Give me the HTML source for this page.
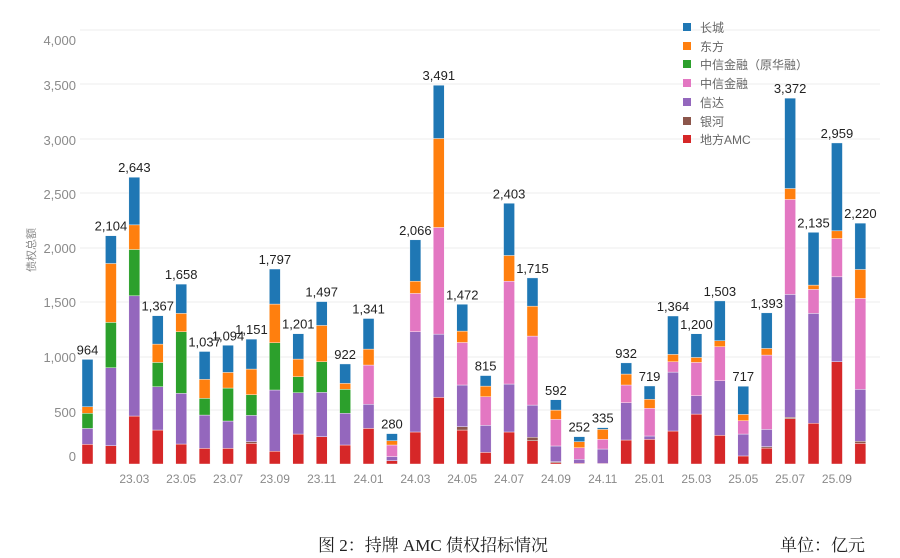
<!DOCTYPE html>
<html><head><meta charset="utf-8"><style>
html,body{margin:0;padding:0;background:#fff;}
svg{display:block;font-family:"Liberation Sans","Noto Sans CJK SC",sans-serif;}
</style></head><body>
<svg id="s" width="900" height="558" viewBox="0 0 900 558">
<g id="grid" stroke="#eeeeee" stroke-width="1"></g>
<g font-size="13" fill="#8a8a8a" text-anchor="end">
<text x="76" y="45">4,000</text><text x="76" y="90">3,500</text><text x="76" y="145">3,000</text>
<text x="76" y="199">2,500</text><text x="76" y="253">2,000</text><text x="76" y="307">1,500</text>
<text x="76" y="362">1,000</text><text x="76" y="417">500</text><text x="76" y="461">0</text>
</g>
<text transform="translate(35,250) rotate(-90)" font-size="11" fill="#888" text-anchor="middle">债权总额</text>
<g id="bars"></g>
<g id="lbl" font-size="13" fill="#222" text-anchor="middle">
<text>964</text><text>2,104</text><text>2,643</text><text>1,367</text><text>1,658</text><text>1,037</text><text>1,094</text><text>1,151</text><text>1,797</text><text>1,201</text><text>1,497</text><text>922</text><text>1,341</text><text>280</text><text>2,066</text><text>3,491</text><text>1,472</text><text>815</text><text>2,403</text><text>1,715</text><text>592</text><text>252</text><text>335</text><text>932</text><text>719</text><text>1,364</text><text>1,200</text><text>1,503</text><text>717</text><text>1,393</text><text>3,372</text><text>2,135</text><text>2,959</text><text>2,220</text>
</g>
<g id="xt" font-size="12" fill="#8a8a8a" text-anchor="middle">
<text>23.03</text><text>23.05</text><text>23.07</text><text>23.09</text><text>23.11</text><text>24.01</text><text>24.03</text><text>24.05</text><text>24.07</text><text>24.09</text><text>24.11</text><text>25.01</text><text>25.03</text><text>25.05</text><text>25.07</text><text>25.09</text>
</g>
<g font-size="12" fill="#666">
<rect x="683" y="23" width="8" height="8" fill="#1f77b4"/><text x="700" y="32">长城</text>
<rect x="683" y="42" width="8" height="8" fill="#ff7f0e"/><text x="700" y="51">东方</text>
<rect x="683" y="60" width="8" height="8" fill="#2ca02c"/><text x="700" y="69">中信金融（原华融）</text>
<rect x="683" y="79" width="8" height="8" fill="#e377c2"/><text x="700" y="88">中信金融</text>
<rect x="683" y="98" width="8" height="8" fill="#9467bd"/><text x="700" y="107">信达</text>
<rect x="683" y="117" width="8" height="8" fill="#8c564b"/><text x="700" y="126">银河</text>
<rect x="683" y="135" width="8" height="8" fill="#d62728"/><text x="700" y="144">地方AMC</text>
</g>
<text x="318" y="551" font-size="17" fill="#222" font-family="'Liberation Serif','Noto Serif CJK SC',serif">图 2：持牌 AMC 债权招标情况</text>
<text x="780" y="551" font-size="17" fill="#222" font-family="'Liberation Serif','Noto Serif CJK SC',serif">单位：亿元</text>
</svg>
<script>
var NS="http://www.w3.org/2000/svg";
function el(t,a,p){var e=document.createElementNS(NS,t);for(var k in a)e.setAttribute(k,a[k]);p.appendChild(e);return e;}
var g=document.getElementById('grid');
[30,84,139,193,248,302,357,410].forEach(function(y){el('line',{x1:80,x2:880,y1:y,y2:y},g);});
var D=[[181,181,328,328,467,528,964],[169,169,887,887,1305,1848,2104],[442,442,1550,1550,1977,2204,2643],[313,313,712,712,936,1105,1367],[184,184,651,651,1219,1388,1658],[144,144,451,451,605,780,1037],[144,144,396,396,700,844,1094],[190,206,448,448,639,875,1151],[117,117,682,682,1117,1474,1797],[276,276,657,657,804,967,1201],[252,252,660,660,942,1277,1497],[175,175,467,467,688,743,922],[328,328,550,912,912,1059,1341],[31,31,68,175,175,215,280],[295,295,1219,1572,1572,1685,2066],[614,614,1197,2180,2180,3000,3491],[313,344,728,1120,1120,1225,1472],[107,107,356,620,620,718,815],[295,295,737,1685,1685,1922,2403],[215,246,543,1179,1179,1455,1715],[12,21,166,411,411,497,592],[6,6,43,150,150,206,252],[5,5,138,227,227,319,335],[221,221,565,728,728,829,932],[227,227,258,513,513,596,719],[304,304,847,942,942,1010,1364],[460,460,629,936,936,982,1200],[264,264,767,1081,1081,1136,1503],[74,74,276,399,399,457,717],[147,160,319,1004,1004,1065,1393],[418,430,1563,2438,2438,2539,3372],[375,375,1388,1609,1609,1649,2135],[943,943,1725,2078,2078,2149,2959],[190,209,688,1526,1526,1793,2220]];
var C=["#d62728","#8c564b","#9467bd","#e377c2","#2ca02c","#ff7f0e","#1f77b4"];
var B=document.getElementById('bars'),K=0.1085,Y0=464;
var L=document.getElementById('lbl').children;
D.forEach(function(d,i){var x=82+i*23.42,prev=0;
 d.forEach(function(v,j){if(v>prev){el('rect',{x:x,y:Y0-v*K,width:11,height:(v-prev)*K,fill:C[j],stroke:'#fff','stroke-width':0.4},B);}prev=Math.max(prev,v);});
 L[i].setAttribute('x',x+5.5);L[i].setAttribute('y',Y0-d[6]*K-5);});
var X=document.getElementById('xt').children;
for(var i=0;i<X.length;i++){X[i].setAttribute('x',87.5+(2+2*i)*23.42);X[i].setAttribute('y',483);}
</script>
</body></html>
